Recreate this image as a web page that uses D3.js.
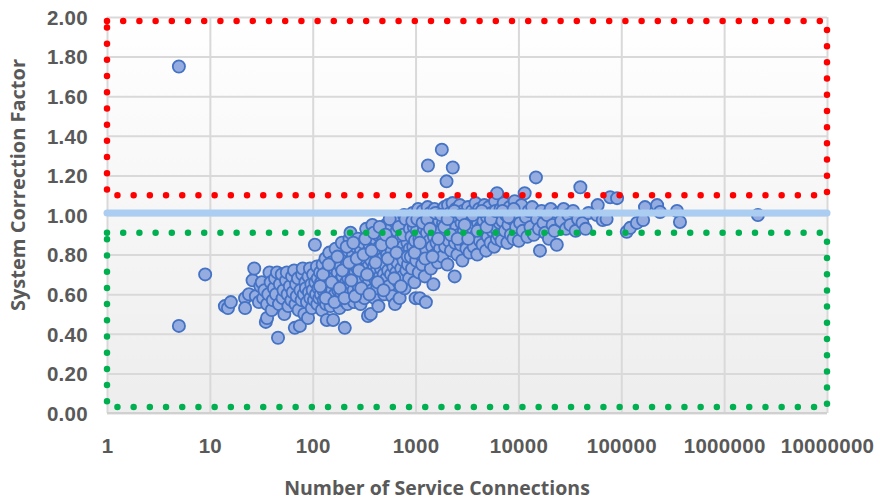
<!DOCTYPE html>
<html>
<head>
<meta charset="utf-8">
<script src="https://cdn.jsdelivr.net/npm/d3@7"></script>
<style>
  html, body { margin: 0; padding: 0; background: #fff; }
  svg { display: block; font-family: "Open Sans", "Liberation Sans", sans-serif; }
  .tick-label text { fill: #595959; font-size: 20.5px; font-weight: 600; letter-spacing: 0.3px; }
  .axis-title { fill: #595959; font-weight: 700; }
</style>
</head>
<body>
<svg id="chart" width="880" height="501"></svg>
<script>
// ── Data ──────────────────────────────────────────────
const xTicks = [1, 10, 100, 1000, 10000, 100000, 1000000, 10000000];
const yTicks = [0, 0.2, 0.4, 0.6, 0.8, 1.0, 1.2, 1.4, 1.6, 1.8, 2.0];

const targetFactor = 1.01;          // light blue reference line
const upperBand = [1.10, 1.98];     // red dotted box
const lowerBand = [0.03, 0.91];     // green dotted box

// [service connections, system correction factor]
const smallSystems = [
  [5, 1.75], [5, 0.44], [9, 0.70],
  [14, 0.54], [15, 0.53], [16, 0.56], [22, 0.58], [22, 0.53], [24, 0.60], [26, 0.67],
  [27, 0.73], [28, 0.59], [30, 0.56], [31, 0.64], [32, 0.66],
  [33, 0.58], [34, 0.62], [35, 0.46], [36, 0.48], [36, 0.55], [37, 0.60], [38, 0.71],
  [39, 0.66], [40, 0.52], [41, 0.57], [42, 0.63], [43, 0.68], [44, 0.60], [45, 0.71],
  [46, 0.38], [47, 0.55], [48, 0.65], [50, 0.70], [51, 0.58], [52, 0.62], [53, 0.50],
  [55, 0.67], [56, 0.71], [57, 0.60], [58, 0.54], [60, 0.64], [62, 0.57], [63, 0.69],
  [64, 0.61], [66, 0.72], [67, 0.43], [68, 0.55], [69, 0.65], [70, 0.59], [72, 0.68],
  [73, 0.52], [75, 0.44], [76, 0.62], [78, 0.57], [79, 0.70], [80, 0.73], [82, 0.60],
  [83, 0.50], [85, 0.66], [86, 0.63], [88, 0.56], [90, 0.48], [91, 0.69], [92, 0.61],
  [94, 0.73], [95, 0.58], [97, 0.65], [98, 0.53], [100, 0.62], [101, 0.70], [103, 0.57],
  [105, 0.85], [106, 0.66], [108, 0.60], [110, 0.74], [111, 0.55], [112, 0.68], [114, 0.63],
  [116, 0.58], [118, 0.71]
];

const mediumSystems = [
  [120, 0.60], [121, 0.66], [123, 0.52], [125, 0.75], [127, 0.62], [128, 0.57], [130, 0.69],
  [132, 0.64], [133, 0.78], [135, 0.55], [137, 0.47], [138, 0.61], [140, 0.72], [142, 0.67],
  [144, 0.59], [145, 0.81], [147, 0.64], [149, 0.54], [150, 0.70], [152, 0.76], [155, 0.62],
  [157, 0.58], [158, 0.47], [160, 0.68], [162, 0.73], [165, 0.60], [167, 0.83], [170, 0.65],
  [172, 0.56], [175, 0.71], [177, 0.62], [180, 0.77], [182, 0.53], [185, 0.67], [187, 0.74],
  [190, 0.60], [192, 0.86], [195, 0.69], [197, 0.57], [200, 0.64], [202, 0.79], [205, 0.43],
  [207, 0.72], [210, 0.61], [212, 0.66], [215, 0.75], [218, 0.55], [220, 0.82], [222, 0.68],
  [225, 0.63], [228, 0.88], [230, 0.71],
  [233, 0.91], [235, 0.65], [238, 0.58], [240, 0.74], [243, 0.69], [246, 0.80], [250, 0.62],
  [253, 0.56], [256, 0.77], [260, 0.71], [263, 0.84], [266, 0.66], [270, 0.60], [273, 0.73],
  [276, 0.88], [280, 0.64], [284, 0.79], [288, 0.70], [292, 0.55], [295, 0.82], [299, 0.67],
  [303, 0.75], [307, 0.61], [310, 0.86], [315, 0.72], [319, 0.58], [323, 0.78], [327, 0.69],
  [331, 0.93], [335, 0.64], [340, 0.81], [345, 0.49], [349, 0.74], [353, 0.66], [358, 0.85],
  [362, 0.71], [367, 0.50], [371, 0.77], [376, 0.62], [380, 0.95], [385, 0.69], [390, 0.83],
  [395, 0.74], [400, 0.58], [405, 0.88], [410, 0.67], [415, 0.79], [420, 0.72], [425, 0.63],
  [430, 0.90], [435, 0.54], [440, 0.76], [445, 0.84], [450, 0.69],
  [455, 0.81], [460, 0.73], [466, 0.92], [472, 0.66], [478, 0.78], [484, 0.87], [490, 0.70],
  [496, 0.60], [502, 0.83], [508, 0.75], [515, 0.95], [521, 0.68], [528, 0.80], [535, 0.88],
  [542, 0.72], [549, 0.64], [556, 0.85], [563, 0.77], [570, 0.93], [578, 0.70], [585, 0.82],
  [593, 0.59], [600, 0.89], [608, 0.74], [616, 0.97], [624, 0.79], [632, 0.55], [640, 0.86],
  [648, 0.71], [656, 0.92], [665, 0.76], [673, 0.83], [682, 0.66], [690, 0.99], [700, 0.58],
  [708, 0.80], [717, 0.88], [726, 0.73], [735, 0.94], [745, 0.69], [754, 0.84], [764, 0.77],
  [773, 1.00], [783, 0.63], [793, 0.90], [803, 0.81], [813, 0.72], [823, 0.96], [834, 0.86],
  [845, 0.75], [855, 0.92], [866, 0.68], [877, 0.83], [888, 0.97],
  // second pass over the densest part of the cloud
  [118, 0.64], [126, 0.70], [134, 0.58], [143, 0.75], [153, 0.66], [163, 0.56], [174, 0.79],
  [183, 0.63], [194, 0.72], [204, 0.58], [214, 0.84], [226, 0.76], [237, 0.67], [248, 0.86],
  [258, 0.59], [268, 0.78], [282, 0.72], [297, 0.63], [312, 0.80], [325, 0.88], [338, 0.70],
  [356, 0.60], [374, 0.82], [392, 0.91], [408, 0.76], [428, 0.66], [448, 0.94], [468, 0.85],
  [488, 0.62], [512, 0.90], [538, 0.78], [560, 0.98], [590, 0.86], [620, 0.68], [652, 0.81],
  [686, 0.94], [720, 0.64], [758, 0.90], [798, 0.98], [840, 0.79], [880, 0.93]
];

const largeSystems = [
  [900, 0.79], [912, 0.89], [925, 0.73], [938, 1.01], [950, 0.84], [963, 0.94], [975, 0.66],
  [988, 0.87], [1000, 0.58], [1015, 0.77], [1030, 0.92], [1045, 0.82], [1060, 1.03], [1075, 0.71],
  [1090, 0.88], [1100, 0.58], [1110, 0.97], [1125, 0.80], [1140, 0.90], [1160, 0.75], [1175, 1.02],
  [1190, 0.85], [1210, 0.93], [1230, 0.69], [1250, 0.99], [1260, 0.56], [1270, 0.82], [1290, 0.91],
  [1310, 1.04], [1320, 1.25], [1330, 0.78], [1350, 0.95], [1370, 0.87], [1390, 1.01], [1410, 0.73],
  [1430, 0.92], [1450, 0.84], [1470, 0.98], [1490, 0.65], [1510, 0.89], [1530, 1.03], [1550, 0.80],
  [1575, 0.94], [1600, 0.86], [1625, 1.00], [1650, 0.76], [1675, 0.91], [1700, 0.97], [1730, 0.83],
  [1760, 0.92], [1790, 1.02], [1800, 1.33], [1820, 0.79], [1850, 0.96], [1880, 0.88], [1910, 1.04],
  [1940, 0.84], [1970, 0.99], [2000, 1.17], [2000, 0.91], [2040, 0.75], [2070, 1.05], [2100, 0.87],
  [2140, 0.95], [2170, 1.01], [2210, 0.82], [2250, 0.93], [2290, 1.06], [2300, 1.24], [2330, 0.89],
  [2370, 0.98], [2400, 0.69], [2420, 0.86], [2460, 1.03], [2500, 0.94], [2550, 0.80], [2600, 0.99],
  [2650, 0.90], [2700, 1.05], [2750, 0.85], [2800, 0.96], [2850, 0.77], [2900, 1.02], [2950, 0.92],
  [3000, 0.87], [3060, 1.00], [3120, 0.83], [3180, 0.95], [3240, 1.04], [3300, 0.90], [3350, 0.81],
  [3400, 0.97],
  [3470, 0.88], [3540, 1.02], [3610, 0.93], [3680, 0.84], [3750, 0.99], [3830, 1.06], [3900, 0.90],
  [3980, 0.80], [4060, 0.96], [4140, 1.03], [4220, 0.87], [4300, 0.94], [4390, 1.00], [4480, 0.85],
  [4570, 0.97], [4660, 1.05], [4750, 0.91], [4850, 0.82], [4950, 0.99], [5050, 0.89], [5150, 1.04],
  [5250, 0.95], [5360, 0.86], [5470, 1.01], [5580, 0.92], [5700, 0.98], [5810, 0.84], [5930, 1.07],
  [6050, 0.93], [6170, 0.88], [6200, 1.11], [6300, 1.00], [6430, 0.90], [6560, 0.96],
  // second pass
  [930, 0.97], [980, 0.81], [1040, 0.98], [1100, 0.86], [1170, 0.96], [1240, 0.78], [1300, 0.98],
  [1380, 0.93], [1460, 0.79], [1560, 1.01], [1660, 0.88], [1770, 1.00], [1900, 0.94], [2050, 0.98],
  [2200, 0.90], [2380, 1.02], [2560, 0.88], [2780, 1.00], [3000, 0.95], [3250, 0.88], [3600, 1.00],
  [4000, 0.92], [4400, 1.02], [4900, 0.94], [5400, 0.98], [6000, 1.02]
];

const veryLargeSystems = [
  [6700, 1.03], [6850, 0.87], [7000, 0.97], [7200, 1.06], [7400, 0.92], [7600, 1.00], [7800, 0.86],
  [8000, 0.95], [8200, 1.04], [8450, 0.90], [8700, 0.98], [8950, 0.88], [9200, 1.07], [9500, 0.94],
  [9800, 1.01], [10100, 0.87], [10400, 0.96], [10700, 1.05], [11000, 0.92], [11500, 1.11],
  [11800, 0.99], [12200, 0.89], [12600, 1.02], [7000, 1.02], [8000, 0.99], [9000, 1.03],
  [13100, 0.94], [13600, 1.04], [14100, 0.90], [14800, 1.19], [15200, 0.98], [15800, 0.93],
  [16200, 0.82], [16800, 1.02], [17500, 0.96], [18200, 0.91], [19000, 1.00], [19800, 0.88],
  [20600, 1.03], [21500, 0.95], [22400, 0.92], [23600, 0.85], [24500, 1.01],
  [26000, 0.97], [27500, 1.03], [29000, 0.93], [30500, 1.00], [32000, 0.95], [34000, 1.02],
  [36000, 0.92], [38000, 0.98], [40000, 1.14], [42000, 0.96], [45000, 0.93], [48000, 1.01],
  [58000, 1.00], [59000, 1.05], [66000, 0.975], [72000, 0.98], [78000, 1.09], [91000, 1.085],
  [113000, 0.915], [122000, 0.935], [142000, 0.96], [163000, 0.975], [170000, 1.04],
  [223000, 1.05], [238000, 1.015], [348000, 1.02], [372000, 0.965], [2130000, 1.00]
];

// ── Chart ─────────────────────────────────────────────
function drawScatter() {
  const svg = d3.select("#chart");
  const plot = { left: 107, right: 827, top: 17, bottom: 413 };
  const width = plot.right - plot.left;
  const height = plot.bottom - plot.top;

  const x = d3.scaleLog().domain([1, 1e7]).range([plot.left, plot.right]);
  const y = d3.scaleLinear().domain([0, 2]).range([plot.bottom, plot.top]);

  // plot background: faint top-to-bottom grey gradient
  const grad = svg.append("defs").append("linearGradient")
    .attr("id", "bg").attr("x1", 0).attr("y1", 0).attr("x2", 0).attr("y2", 1);
  grad.append("stop").attr("offset", "0%").attr("stop-color", "#ffffff");
  grad.append("stop").attr("offset", "100%").attr("stop-color", "#ededed");

  svg.append("rect")
    .attr("x", plot.left).attr("y", plot.top)
    .attr("width", width).attr("height", height)
    .attr("fill", "url(#bg)");

  // Grid
  const gy = svg.append("g")
    .attr("transform", `translate(${plot.left},0)`)
    .call(d3.axisLeft(y).tickValues(yTicks).tickSize(-width).tickFormat(""));
  const gx = svg.append("g")
    .attr("transform", `translate(0,${plot.bottom})`)
    .call(d3.axisBottom(x).tickValues(xTicks).tickSize(-height).tickFormat(""));
  [gx, gy].forEach(g => {
    g.select(".domain").remove();
    g.selectAll(".tick line").attr("stroke", "#d9d9d9").attr("stroke-width", 2);
  });
  svg.append("line")
    .attr("x1", plot.left).attr("x2", plot.right)
    .attr("y1", plot.bottom).attr("y2", plot.bottom)
    .attr("stroke", "#d0d0d0").attr("stroke-width", 2);

  // Points
  const all = [...smallSystems, ...mediumSystems, ...largeSystems, ...veryLargeSystems];
  svg.append("g").selectAll("circle")
    .data(all).enter().append("circle")
    .attr("cx", d => x(d[0]))
    .attr("cy", d => y(d[1]))
    .attr("r", 6.1)
    .attr("fill", "#95ace0")
    .attr("stroke", "#4472c4")
    .attr("stroke-width", 1.8);

  // Reference line at ~1.0
  svg.append("line")
    .attr("x1", x(1)).attr("x2", x(1e7))
    .attr("y1", y(targetFactor)).attr("y2", y(targetFactor))
    .attr("stroke", "#abcdf1")
    .attr("stroke-width", 7)
    .attr("stroke-linecap", "round");

  // Dotted bands
  const bands = [
    { range: upperBand, color: "#ff0000" },
    { range: lowerBand, color: "#00b050" }
  ];
  bands.forEach(b => {
    svg.append("rect")
      .attr("x", x(1))
      .attr("y", y(b.range[1]))
      .attr("width", x(1e7) - x(1))
      .attr("height", y(b.range[0]) - y(b.range[1]))
      .attr("fill", "none")
      .attr("stroke", b.color)
      .attr("stroke-width", 6.5)
      .attr("stroke-linecap", "round")
      .attr("stroke-dasharray", "0 16.2");
  });

  // Tick labels
  const ly = svg.append("g").attr("class", "tick-label")
    .attr("transform", `translate(${plot.left},0)`)
    .call(d3.axisLeft(y).tickValues(yTicks).tickSize(0).tickPadding(19)
      .tickFormat(d3.format(".2f")));
  const lx = svg.append("g").attr("class", "tick-label")
    .attr("transform", `translate(0,${plot.bottom})`)
    .call(d3.axisBottom(x).tickValues(xTicks).tickSize(0).tickPadding(25)
      .tickFormat(d3.format("d")));
  [lx, ly].forEach(g => {
    g.select(".domain").remove();
    g.selectAll("text").attr("font-family", null).attr("font-size", null);
  });
  ly.selectAll("text").attr("dy", "0.36em");

  // Axis titles
  svg.append("text").attr("class", "axis-title")
    .attr("x", 437)
    .attr("y", 495)
    .attr("font-size", 19.5)
    .attr("text-anchor", "middle")
    .text("Number of Service Connections");

  svg.append("text").attr("class", "axis-title")
    .attr("transform", "translate(25,185) rotate(-90)")
    .attr("font-size", 20)
    .attr("text-anchor", "middle")
    .text("System Correction Factor");
}

drawScatter();
</script>
</body>
</html>
